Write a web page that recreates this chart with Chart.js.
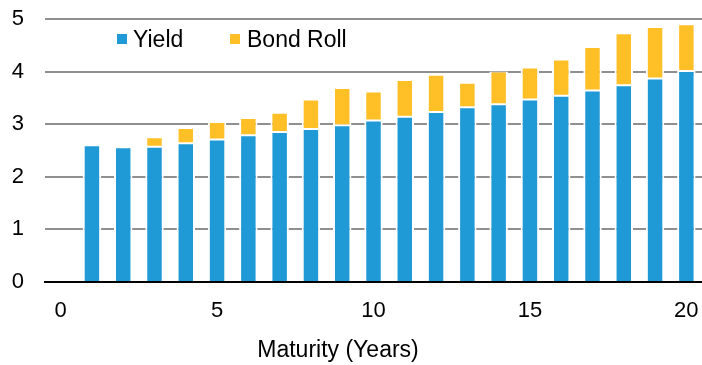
<!DOCTYPE html>
<html>
<head>
<meta charset="utf-8">
<script src="https://cdn.jsdelivr.net/npm/chart.js@4/dist/chart.umd.min.js"></script>
<style>
  html, body { margin: 0; padding: 0; background: #ffffff; }
  #wrap { width: 702px; height: 365px; position: relative; }
</style>
</head>
<body>
<div id="wrap"><canvas id="c" width="702" height="365"></canvas></div>
<script>
const maturities = ['0','1','2','3','4','5','6','7','8','9','10','11','12','13','14','15','16','17','18','19','20'];
const yieldValues = [null, 2.60, 2.56, 2.57, 2.64, 2.71, 2.79, 2.85, 2.91, 2.98, 3.07, 3.14, 3.23, 3.32, 3.38, 3.47, 3.54, 3.64, 3.74, 3.87, 4.01];
const bondRollValues = [null, 0.00, 0.00, 0.18, 0.29, 0.33, 0.33, 0.37, 0.56, 0.71, 0.55, 0.70, 0.71, 0.47, 0.62, 0.61, 0.69, 0.83, 0.99, 0.98, 0.89];
const seriesNames = ['Yield', 'Bond Roll'];
const yTicks = [0, 1, 2, 3, 4, 5];
const xTitle = 'Maturity (Years)';

const BLUE = '#1F9AD6';
const GOLD = '#FFBF27';
const FONT = '"Liberation Sans", Arial, sans-serif';

const overlay = {
  id: 'overlay',
  afterDraw(chart) {
    const ctx = chart.ctx;
    ctx.save();
    // legend
    ctx.font = '23px ' + FONT;
    ctx.textBaseline = 'alphabetic';
    ctx.fillStyle = BLUE;
    ctx.fillRect(117, 34, 10, 10);
    ctx.fillStyle = GOLD;
    ctx.fillRect(230, 34, 10, 10);
    ctx.fillStyle = '#000';
    ctx.textAlign = 'left';
    ctx.fillText(seriesNames[0], 133, 46.5);
    ctx.fillText(seriesNames[1], 247, 46.5);
    // axis title
    ctx.textAlign = 'center';
    ctx.fillText(xTitle, 338, 357);
    ctx.restore();
  }
};

new Chart(document.getElementById('c'), {
  type: 'bar',
  data: {
    labels: maturities,
    datasets: [
      {
        label: seriesNames[0],
        data: yieldValues,
        backgroundColor: BLUE,
        borderColor: '#ffffff',
        borderWidth: {top: 1, bottom: 0, left: 2, right: 2},
        borderSkipped: false,
        barPercentage: 0.59,
        categoryPercentage: 1.0,
        stack: 's'
      },
      {
        label: seriesNames[1],
        data: bondRollValues,
        backgroundColor: GOLD,
        borderColor: '#ffffff',
        borderWidth: {top: 1, bottom: 1, left: 2, right: 2},
        borderSkipped: false,
        barPercentage: 0.59,
        categoryPercentage: 1.0,
        stack: 's'
      }
    ]
  },
  options: {
    responsive: false,
    animation: false,
    devicePixelRatio: 1,
    layout: { padding: { top: 19, right: 0, bottom: 0, left: 0 } },
    plugins: {
      legend: { display: false },
      tooltip: { enabled: false },
      title: { display: false }
    },
    scales: {
      x: {
        type: 'category',
        stacked: true,
        offset: true,
        z: 1,
        grid: { display: false, drawTicks: false },
        border: { display: true, color: '#000000', width: 2 },
        ticks: {
          autoSkip: false,
          maxRotation: 0,
          minRotation: 0,
          padding: 16,
          color: '#000000',
          font: { family: FONT, size: 22 },
          callback: function(value, index) {
            const lab = maturities[index];
            return (Number(lab) % 5 === 0) ? lab : '';
          }
        },
        afterFit(scale) {
          scale.height = 83;
          scale.paddingLeft = 0;
          scale.paddingRight = 0;
        }
      },
      y: {
        stacked: true,
        min: 0,
        max: 5,
        afterBuildTicks(scale) { scale.ticks = yTicks.map(v => ({ value: v })); },
        grid: { color: '#8F8F8F', lineWidth: 2, drawTicks: false },
        border: { display: false },
        ticks: {
          padding: 21,
          color: '#000000',
          font: { family: FONT, size: 22 }
        },
        afterFit(scale) {
          scale.width = 45;
          scale.paddingTop = 0;
          scale.paddingBottom = 0;
        }
      }
    }
  },
  plugins: [overlay]
});
</script>
</body>
</html>
